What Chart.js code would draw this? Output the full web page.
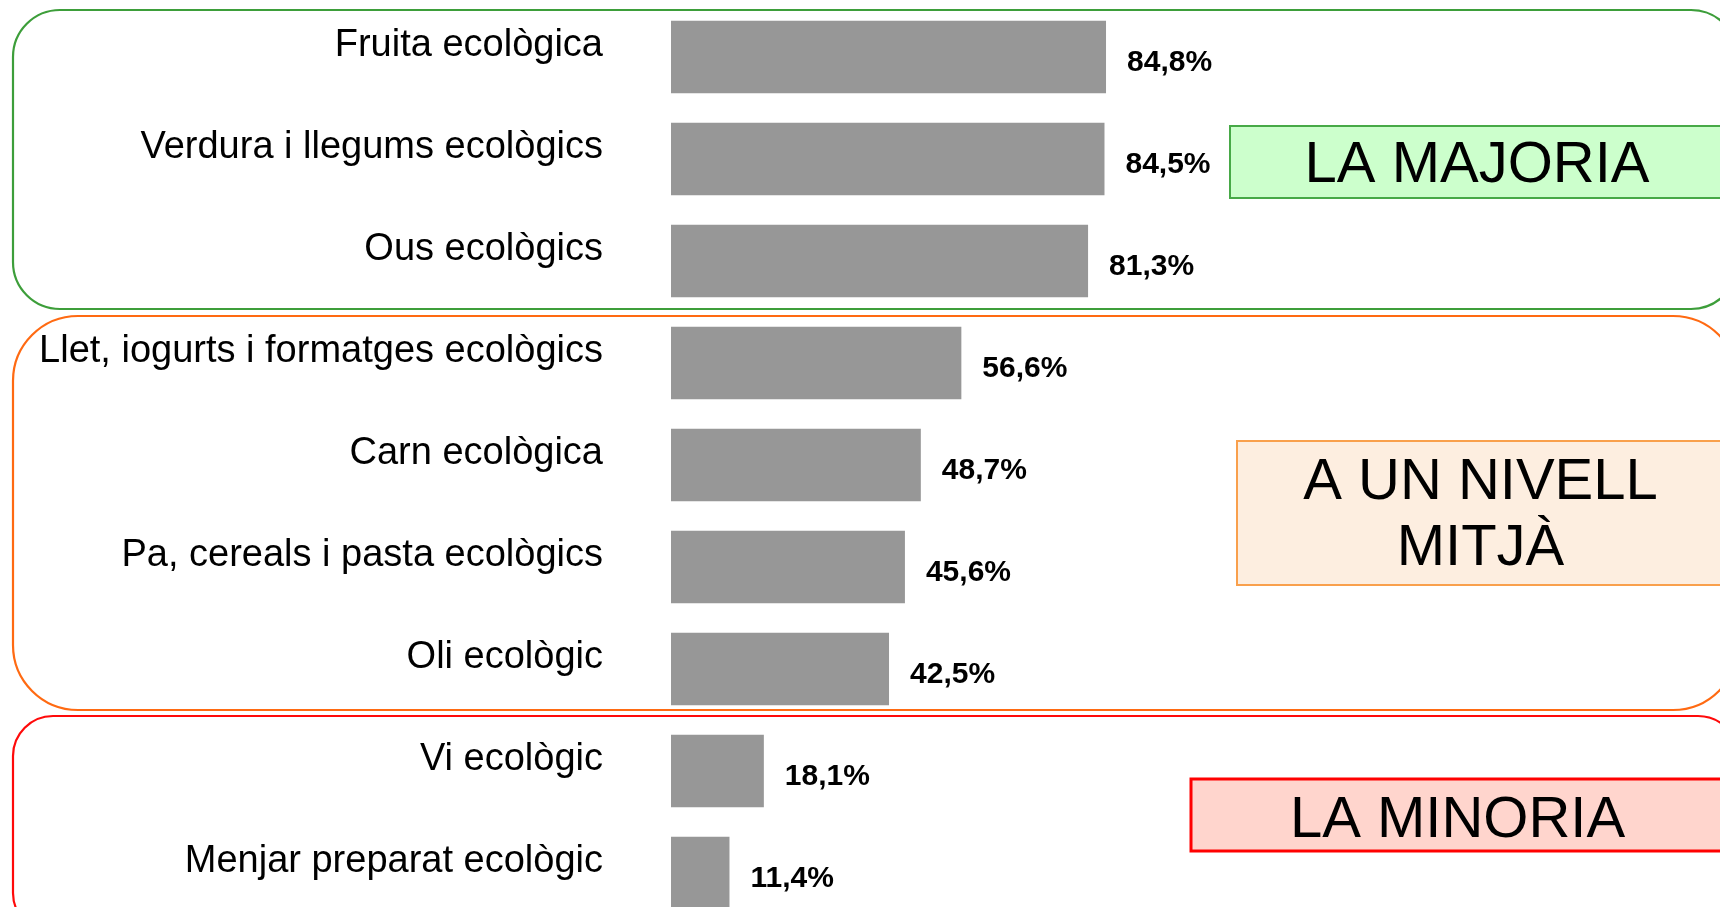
<!DOCTYPE html>
<html>
<head>
<meta charset="utf-8">
<script src="https://cdn.jsdelivr.net/npm/chart.js@4/dist/chart.umd.min.js"></script>
<style>
    body { margin: 0; overflow: hidden; background: #fff; }
    #wrap { width: 1720px; height: 930px; position: relative; }
</style>
</head>
<body>
<div id="wrap"><canvas id="ecoChart"></canvas></div>
<script>
// Products and share of consumers (%)
const categories = [
    'Fruita ecològica',
    'Verdura i llegums ecològics',
    'Ous ecològics',
    'Llet, iogurts i formatges ecològics',
    'Carn ecològica',
    'Pa, cereals i pasta ecològics',
    'Oli ecològic',
    'Vi ecològic',
    'Menjar preparat ecològic'
];
const values = [84.8, 84.5, 81.3, 56.6, 48.7, 45.6, 42.5, 18.1, 11.4];

// Groups: first and last category index of each, and their captions
const groupStart = [0, 3, 7];
const groupEnd = [2, 6, 8];
const groupCaptions = [['LA MAJORIA'], ['A UN NIVELL', 'MITJÀ'], ['LA MINORIA']];

const FONT = "'Liberation Sans', Arial, sans-serif";

// look of each group (outline + caption box)
const groupLook = [
    { line: '#3d9e3a', radius: 47, padTop: 47, padBottom: 48, fill: '#ccffcc', edge: '#47a947', edgeW: 2, boxLeft: 1230, boxDy: 3, textDy: 2 },
    { line: '#ff6a12', radius: 65, padTop: 47, padBottom: 41, fill: '#fdeee0', edge: '#f9a04c', edgeW: 2, boxLeft: 1237, boxDy: -3, textDy: 4 },
    { line: '#ff0a0a', radius: 40, padTop: 55, padBottom: 60, fill: '#ffd5cd', edge: '#ff0000', edgeW: 3, boxLeft: 1191, boxDy: -7, textDy: 4 }
];

const groupsPlugin = {
    id: 'groups',
    beforeDatasetsDraw(chart) {
        const ctx = chart.ctx;
        const y = chart.scales.y;
        ctx.save();
        groupStart.forEach((s, i) => {
            const look = groupLook[i];
            const top = y.getPixelForValue(s) - look.padTop;
            const bottom = y.getPixelForValue(groupEnd[i]) + look.padBottom;
            ctx.beginPath();
            ctx.lineWidth = 2.2;
            ctx.strokeStyle = look.line;
            ctx.roundRect(13, top, 1738 - 13, bottom - top, look.radius);
            ctx.stroke();
        });
        ctx.restore();
    },
    afterDatasetsDraw(chart) {
        const ctx = chart.ctx;
        const meta = chart.getDatasetMeta(0);
        ctx.save();
        // value labels
        ctx.font = 'bold 30px ' + FONT;
        ctx.fillStyle = '#000';
        ctx.textAlign = 'left';
        ctx.textBaseline = 'middle';
        meta.data.forEach((bar, i) => {
            const txt = values[i].toFixed(1).replace('.', ',') + '%';
            ctx.fillText(txt, bar.x + 21, bar.y + 6);
        });

        // caption boxes
        const y = chart.scales.y;
        groupStart.forEach((s, i) => {
            const look = groupLook[i];
            const lines = groupCaptions[i];
            const mid = (y.getPixelForValue(s) + y.getPixelForValue(groupEnd[i])) / 2 + look.boxDy;
            const h = 72 * lines.length;
            const top = mid - h / 2;
            const right = 1724;
            ctx.fillStyle = look.fill;
            ctx.fillRect(look.boxLeft, top, right - look.boxLeft, h);
            ctx.lineWidth = look.edgeW;
            ctx.strokeStyle = look.edge;
            ctx.strokeRect(look.boxLeft, top, right - look.boxLeft, h);

            ctx.fillStyle = '#000';
            ctx.font = '58px ' + FONT;
            ctx.textAlign = 'center';
            const cx = (look.boxLeft + right) / 2;
            lines.forEach((ln, k) => {
                ctx.fillText(ln, cx, top + 38 + k * 66 + look.textDy);
            });
        });
        ctx.restore();
    }
};

const ctx = document.getElementById('ecoChart').getContext('2d');
new Chart(ctx, {
    type: 'bar',
    data: {
        labels: categories,
        datasets: [{
            data: values,
            backgroundColor: '#979797',
            barPercentage: 0.71,
            categoryPercentage: 1
        }]
    },
    options: {
        indexAxis: 'y',
        responsive: true,
        maintainAspectRatio: false,
        devicePixelRatio: 1,
        animation: false,
        layout: { padding: { left: 0, top: 6, bottom: 6, right: 536 } },
        scales: {
            x: { display: false, min: 0, max: 100 },
            y: {
                // tick marks not drawn, only used to push the labels left
                grid: { display: false, drawTicks: true, tickLength: 68 },
                border: { display: false },
                ticks: {
                    color: '#000',
                    font: { family: FONT, size: 38 },
                    padding: 0,
                    labelOffset: -11
                },
                afterFit(scale) {
                    scale.width = 671;
                    scale.paddingTop = 0;
                    scale.paddingBottom = 0;
                }
            }
        },
        plugins: {
            legend: { display: false },
            tooltip: { enabled: false }
        }
    },
    plugins: [groupsPlugin]
});
</script>
</body>
</html>
